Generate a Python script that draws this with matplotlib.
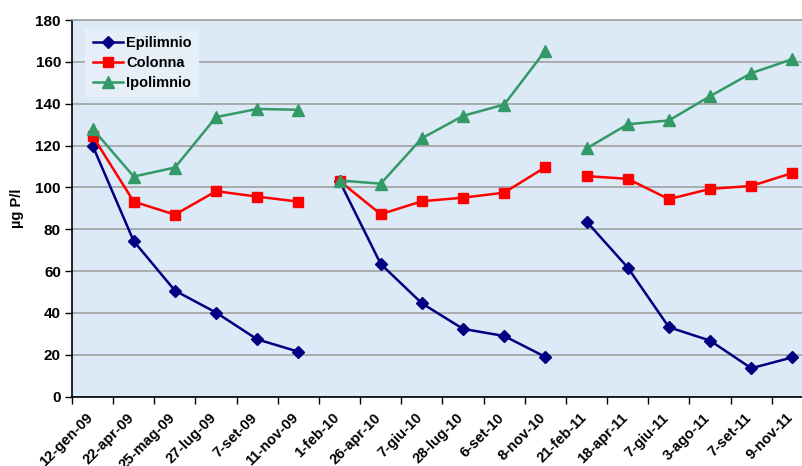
import matplotlib
matplotlib.use("Agg")
import matplotlib.pyplot as plt
import matplotlib.transforms as mtransforms
from matplotlib.lines import Line2D
import numpy as np

plt.rcParams['font.family'] = ['Liberation Sans', 'DejaVu Sans']
plt.rcParams['font.weight'] = 'bold'

dates = ["12-gen-09", "22-apr-09", "25-mag-09", "27-lug-09", "7-set-09", "11-nov-09",
         "1-feb-10", "26-apr-10", "7-giu-10", "28-lug-10", "6-set-10", "8-nov-10",
         "21-feb-11", "18-apr-11", "7-giu-11", "3-ago-11", "7-set-11", "9-nov-11"]

epilimnio = [120.0, 74.3, 50.7, 40.2, 27.4, 21.5,
             103.0, 63.4, 44.6, 32.4, 29.0, 19.0,
             83.7, 61.7, 33.2, 26.8, 13.6, 18.8]
colonna = [124.6, 93.2, 87.0, 98.2, 95.6, 93.2,
           103.1, 87.2, 93.4, 95.1, 97.5, 109.7,
           105.4, 104.1, 94.4, 99.3, 100.7, 106.9]
ipolimnio = [128.0, 105.2, 109.5, 133.6, 137.5, 137.1,
             103.3, 101.8, 123.5, 134.2, 139.6, 165.4,
             118.6, 130.2, 132.0, 143.6, 154.6, 161.3]

# each campaign year is drawn as its own unconnected segment
segments = [(0, 6), (6, 12), (12, 18)]

series = [
    ("Epilimnio", epilimnio, "#000080", "D", 6.0),
    ("Colonna", colonna, "#ff0000", "s", 7.5),
    ("Ipolimnio", ipolimnio, "#339966", "^", 8.0),
]

W, H = 803, 466
fig = plt.figure(figsize=(W / 100, H / 100), dpi=100)
left, right, top, bottom = 72, 813, 20, 396.7
ax = fig.add_axes([left / W, (H - bottom) / H, (right - left) / W, (bottom - top) / H])
ax.set_facecolor("#dce9f6")

x = np.arange(len(dates)) + 0.5
handles = []
for name, vals, color, marker, ms in series:
    v = np.asarray(vals)
    for a, b in segments:
        ax.plot(x[a:b], v[a:b], color=color, lw=1.8, marker=marker, ms=ms,
                mec=color, mfc=color, zorder=3)
    handles.append(Line2D([], [], color=color, lw=1.8, marker=marker, ms=ms,
                          mec=color, mfc=color))

ax.set_xlim(0, len(dates))
ax.set_ylim(0, 180)
ax.set_yticks(np.arange(0, 181, 20))
ax.set_xticks(np.arange(len(dates)))
ax.set_xticks(x, minor=True)
ax.set_xticklabels([])
ax.set_xticklabels(dates, minor=True, rotation=45, ha="right", va="top",
                   rotation_mode="anchor", fontsize=10.5, fontweight="bold")
ax.tick_params(axis="x", which="minor", length=0, pad=10)
ax.tick_params(axis="x", which="major", length=5, width=1, direction="out")
ax.tick_params(axis="y", length=5, width=1, direction="out", labelsize=11, pad=3)
for lab in ax.get_yticklabels():
    lab.set_fontweight("bold")

# nudge the slanted date labels so they end just left of each point
shift = mtransforms.ScaledTranslation(-0.07, 0.0, fig.dpi_scale_trans)
for lab in ax.get_xticklabels(minor=True):
    lab.set_transform(lab.get_transform() + shift)

ax.grid(axis="y", color="#a0a0a0", lw=1.2, zorder=1)
ax.set_axisbelow(True)
for s in ["top", "right"]:
    ax.spines[s].set_color("#a0a0a0")
    ax.spines[s].set_linewidth(1.2)
for s in ["left", "bottom"]:
    ax.spines[s].set_color("black")
    ax.spines[s].set_linewidth(1.2)

ax.set_ylabel("µg P/l", fontsize=10.5, fontweight="bold", labelpad=8)

leg = ax.legend(handles, [s[0] for s in series], loc="upper left",
                bbox_to_anchor=(0.008, 0.995), frameon=True, fancybox=False,
                prop={"size": 10.5, "weight": "bold"}, handlelength=2.1,
                handletextpad=0.2, labelspacing=0.4, borderpad=0.5)
leg.get_frame().set_facecolor("#e6eff8")
leg.get_frame().set_edgecolor("none")
leg.get_frame().set_alpha(1)

fig.savefig("out.png", dpi=100)
